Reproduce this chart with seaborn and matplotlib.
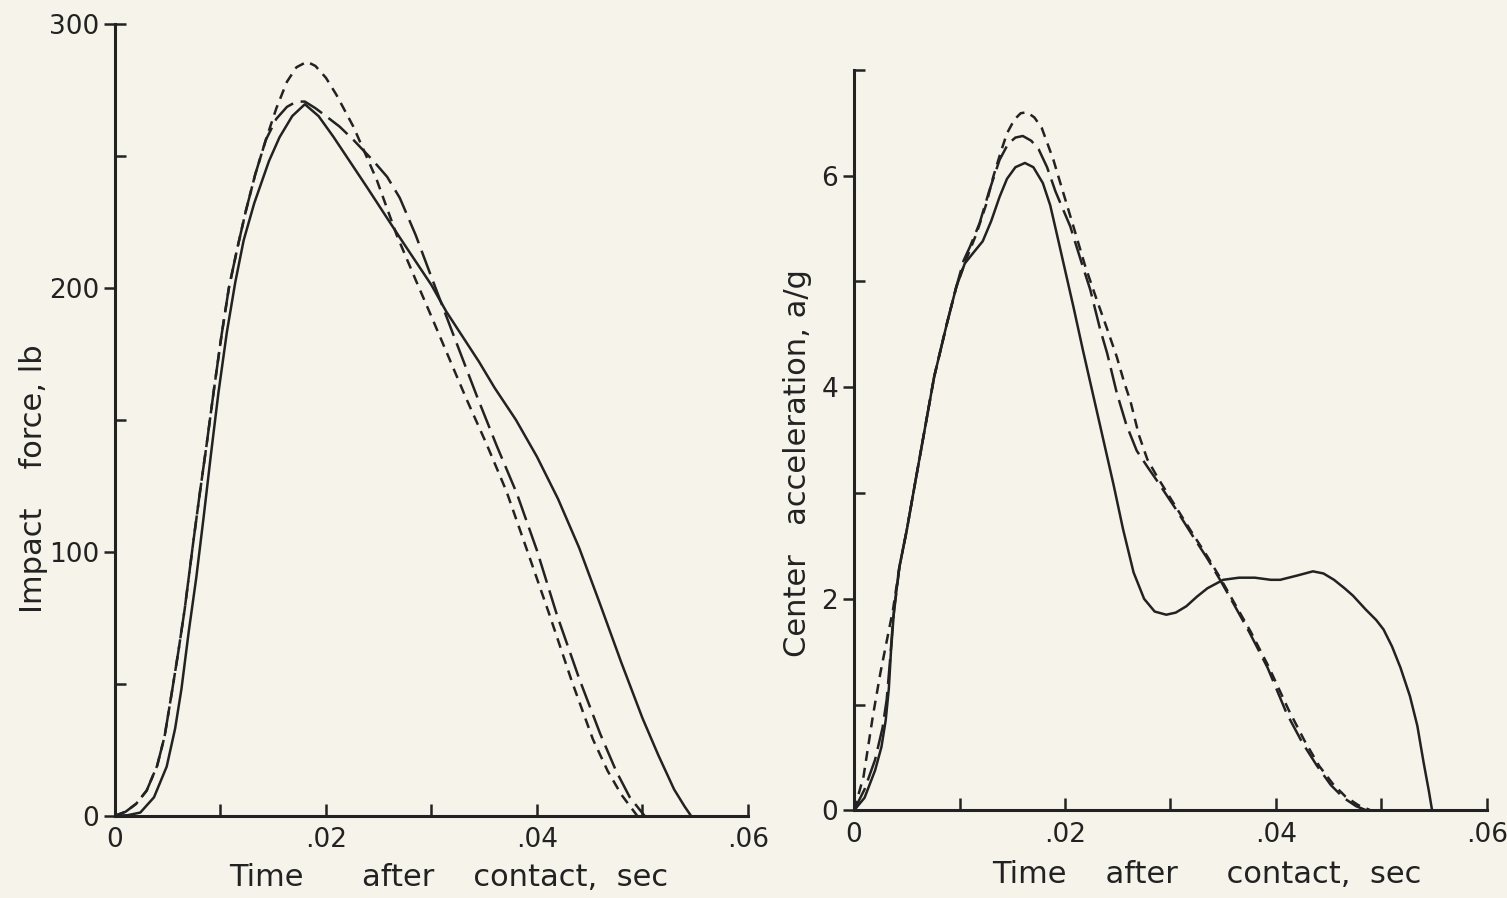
import numpy as np
import pandas as pd
import matplotlib
matplotlib.use("Agg")
import matplotlib.pyplot as plt
import matplotlib.ticker as ticker
import seaborn as sns

# ---- left panel: impact force, lb ----
force_solid_t = [0, .0012, .0024, .0037, .0049, .0057, .0063, .0070, .0077, .0084,
                 .0091, .0098, .0106, .0114, .0122, .0132, .0146, .0156, .0168, .0180,
                 .0193, .0207, .0239, .0270, .0300, .0314, .0345, .0360, .0380, .0400,
                 .0420, .0440, .0460, .0480, .0500, .0515, .0530, .0540, .0546]
force_solid = [0, 0.2, 1.2, 7, 18.6, 33, 48, 70, 90, 113,
               137, 160, 183, 202, 218, 232, 248, 257, 265, 269.5,
               265, 257.2, 238, 219, 201, 191, 172, 162, 150, 136,
               120, 101.5, 80, 58, 37, 23, 10, 3.5, 0]

force_long_t = [0, .0010, .0020, .0030, .0040, .0047, .0054, .0060, .0066, .0074,
                .0080, .0087, .0094, .0101, .0108, .0116, .0124, .0133, .0143, .0153,
                .0163, .0172, .0180, .0190, .0200, .0213, .0226, .0245, .0258, .0270,
                .0285, .0300, .0320, .0343, .0362, .0381, .0400, .0419, .0440, .0460,
                .0475, .0488, .0502]
force_long = [0, 1.5, 4.5, 9.5, 19, 30, 47, 62, 78, 103,
              121, 141, 162, 182, 200, 215, 229, 243, 256, 264,
              268.5, 270.5, 270.5, 268, 265, 261, 256, 248, 242, 234,
              220, 204, 183, 159, 140, 122, 100.5, 76, 52, 31,
              17, 7, 0]

force_short_t = [0, .0010, .0020, .0030, .0040, .0047, .0054, .0060, .0066, .0074,
                 .0080, .0087, .0094, .0101, .0108, .0116, .0124, .0133, .0143, .0153,
                 .0163, .0172, .0182, .0190, .0200, .0210, .0226, .0248, .0267, .0285,
                 .0299, .0316, .0333, .0352, .0371, .0392, .0412, .0433, .0453, .0467,
                 .0480, .0495]
force_short = [0, 1.5, 4.5, 9.5, 19, 30, 47, 62, 78, 103,
               121, 141, 162, 182, 200, 215, 229, 243, 256, 268,
               278, 283.5, 285.6, 284, 279.5, 273, 261, 241, 220, 203,
               190, 174, 158, 141, 123, 99, 76, 51, 29, 17,
               8, 0]

# ---- right panel: center acceleration, a/g ----
acc_solid_t = [0, .0010, .0020, .0026, .0030, .0033, .0035, .0038, .0043, .0050,
               .0058, .0067, .0076, .0088, .0097, .0105, .0113, .0122, .0130, .0138,
               .0145, .0153, .0162, .0170, .0179, .0186, .0192, .0208, .0217, .0233,
               .0246, .0255, .0265, .0275, .0285, .0296, .0305, .0315, .0325, .0335,
               .0350, .0365, .0380, .0395, .0404, .0420, .0435, .0445, .0455, .0465,
               .0473, .0485, .0495, .0502, .0510, .0518, .0527, .0534, .0540, .0545,
               .0548]
acc_solid = [0, 0.12, 0.38, 0.6, 0.85, 1.15, 1.5, 1.9, 2.3, 2.65,
             3.1, 3.6, 4.1, 4.6, 4.95, 5.17, 5.27, 5.38, 5.57, 5.8,
             5.97, 6.08, 6.12, 6.08, 5.93, 5.72, 5.46, 4.76, 4.35, 3.65,
             3.08, 2.66, 2.25, 2.0, 1.88, 1.85, 1.87, 1.93, 2.02, 2.1,
             2.18, 2.2, 2.2, 2.18, 2.18, 2.22, 2.26, 2.24, 2.18, 2.1,
             2.03, 1.9, 1.8, 1.71, 1.55, 1.35, 1.08, 0.8, 0.45, 0.18,
             0]

acc_long_t = [0, .0010, .0020, .0027, .0031, .0034, .0037, .0043, .0050, .0058,
              .0067, .0076, .0088, .0097, .0104, .0110, .0119, .0128, .0138, .0146,
              .0153, .0160, .0168, .0175, .0183, .0191, .0205, .0215, .0224, .0233,
              .0240, .0249, .0258, .0268, .0278, .0287, .0305, .0322, .0335, .0347,
              .0360, .0375, .0392, .0410, .0425, .0439, .0452, .0464, .0476, .0486]
acc_long = [0, 0.2, 0.48, 0.78, 1.05, 1.4, 1.8, 2.3, 2.65, 3.1,
            3.6, 4.1, 4.6, 4.95, 5.2, 5.33, 5.55, 5.85, 6.15, 6.3,
            6.36, 6.375, 6.33, 6.25, 6.08, 5.85, 5.52, 5.2, 4.92, 4.56,
            4.32, 3.95, 3.65, 3.4, 3.25, 3.12, 2.85, 2.58, 2.38, 2.18,
            1.95, 1.68, 1.35, 0.92, 0.64, 0.42, 0.24, 0.12, 0.04, 0]

acc_short_t = [0, .0009, .0018, .0025, .0031, .0037, .0043, .0050, .0058, .0067,
               .0076, .0088, .0097, .0106, .0116, .0125, .0132, .0139, .0145, .0152,
               .0158, .0164, .0171, .0178, .0189, .0198, .0208, .0219, .0230, .0240,
               .0249, .0256, .0262, .0270, .0278, .0287, .0305, .0322, .0335, .0347,
               .0360, .0376, .0393, .0412, .0427, .0441, .0454, .0466, .0478, .0490]
acc_short = [0, 0.32, 0.9, 1.3, 1.6, 1.9, 2.3, 2.65, 3.1, 3.6,
             4.1, 4.6, 4.95, 5.2, 5.45, 5.72, 5.99, 6.22, 6.4, 6.53,
             6.59, 6.6, 6.55, 6.45, 6.15, 5.85, 5.52, 5.15, 4.83, 4.55,
             4.29, 4.05, 3.87, 3.55, 3.32, 3.16, 2.87, 2.6, 2.4, 2.2,
             1.97, 1.69, 1.36, 0.95, 0.66, 0.42, 0.25, 0.13, 0.05, 0]

x_ticks = [0, .02, .04, .06]
x_labels = ["0", ".02", ".04", ".06"]
force_ticks = [0, 100, 200, 300]
acc_ticks = [0, 2, 4, 6]


def frame(ts, vs, name):
    return pd.DataFrame({"t": ts, "v": vs, "curve": name})


df_force = pd.concat([frame(force_solid_t, force_solid, "solid"),
                      frame(force_long_t, force_long, "long"),
                      frame(force_short_t, force_short, "short")])
df_acc = pd.concat([frame(acc_solid_t, acc_solid, "solid"),
                    frame(acc_long_t, acc_long, "long"),
                    frame(acc_short_t, acc_short, "short")])

paper = "#f5f3ea"
ink = "#222222"
sns.set_style("ticks", {"axes.facecolor": paper, "figure.facecolor": paper})
plt.rcParams["font.family"] = ["DejaVu Sans"]

fig = plt.figure(figsize=(15.07, 8.98), dpi=100)
ax1 = fig.add_axes([0.0763, 0.0916, 0.420, 0.882])
ax2 = fig.add_axes([0.5667, 0.0975, 0.420, 0.8247])

dash_map = {"solid": "", "long": (10, 3.2), "short": (4, 2.8)}

for ax, df in [(ax1, df_force), (ax2, df_acc)]:
    sns.lineplot(data=df, x="t", y="v", style="curve", style_order=["solid", "long", "short"],
                 dashes=dash_map, color=ink, lw=1.8, estimator=None, legend=False, ax=ax)
    ax.set_facecolor(paper)
    sns.despine(ax=ax)
    for s in ["left", "bottom"]:
        ax.spines[s].set_linewidth(2.2)
        ax.spines[s].set_color(ink)
    ax.set_xlim(0, 0.06)
    ax.set_xticks(x_ticks)
    ax.set_xticklabels(x_labels)
    ax.xaxis.set_minor_locator(ticker.FixedLocator([.01, .03, .05]))
    ax.tick_params(axis="x", which="both", direction="in", length=9, width=1.8,
                   color=ink, labelsize=19, pad=8, labelcolor=ink)
    ax.tick_params(axis="y", which="major", direction="out", length=8, width=1.8,
                   color=ink, labelsize=19, labelcolor=ink)
    ax.tick_params(axis="y", which="minor", direction="in", length=8, width=1.8, color=ink)
    ax.yaxis.remove_overlapping_locs = False

ax1.set_ylim(0, 300)
ax1.set_yticks(force_ticks)
ax1.set_yticklabels([str(v) for v in force_ticks])
ax1.yaxis.set_minor_locator(ticker.FixedLocator([50, 150, 250, 300]))
ax1.set_xlabel("Time      after    contact,  sec", fontsize=22, color=ink)
ax1.set_ylabel("Impact    force, lb", fontsize=22, color=ink)
ax1.xaxis.set_label_coords(0.527, -0.060)
ax1.yaxis.set_label_coords(-0.106, 0.426)

ax2.set_ylim(0, 7)
ax2.set_yticks(acc_ticks)
ax2.set_yticklabels([str(v) for v in acc_ticks])
ax2.yaxis.set_minor_locator(ticker.FixedLocator([1, 3, 5, 7]))
ax2.set_xlabel("Time    after     contact,  sec", fontsize=22, color=ink)
ax2.set_ylabel("Center   acceleration, a/g", fontsize=22, color=ink)
ax2.xaxis.set_label_coords(0.558, -0.067)
ax2.yaxis.set_label_coords(-0.066, 0.469)

fig.savefig("out.png", dpi=100, facecolor=paper)
